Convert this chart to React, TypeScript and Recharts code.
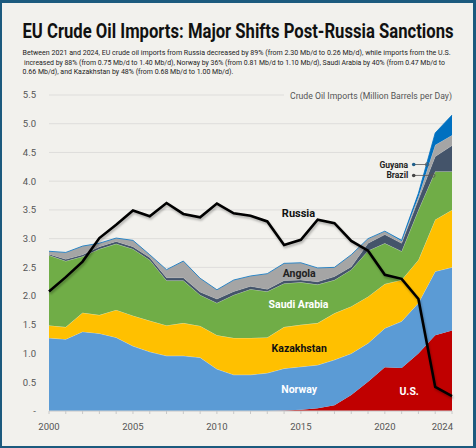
import React from 'react';
import {
  ComposedChart,
  Area,
  Line,
  XAxis,
  YAxis,
  CartesianGrid,
  ReferenceDot,
  ReferenceLine,
} from 'recharts';

const years = [2000, 2001, 2002, 2003, 2004, 2005, 2006, 2007, 2008, 2009, 2010, 2011, 2012, 2013, 2014, 2015, 2016, 2017, 2018, 2019, 2020, 2021, 2022, 2023, 2024];

const us = [0, 0, 0, 0, 0, 0, 0, 0, 0, 0, 0, 0, 0, 0, 0.01, 0.02, 0.05, 0.1, 0.28, 0.51, 0.76, 0.75, 1.0, 1.32, 1.4];
const norway = [1.27, 1.25, 1.38, 1.35, 1.28, 1.13, 1.03, 0.96, 0.96, 0.93, 0.73, 0.63, 0.63, 0.66, 0.73, 0.75, 0.75, 0.79, 0.72, 0.67, 0.68, 0.81, 0.88, 1.11, 1.1];
const kazakhstan = [0.22, 0.21, 0.33, 0.32, 0.48, 0.53, 0.54, 0.53, 0.57, 0.55, 0.59, 0.64, 0.64, 0.62, 0.72, 0.73, 0.73, 0.81, 0.82, 0.81, 0.77, 0.72, 0.75, 0.9, 1.0];
const saudiArabia = [1.22, 1.15, 0.98, 1.15, 1.15, 1.16, 1.06, 0.78, 0.74, 0.54, 0.56, 0.75, 0.85, 0.8, 0.76, 0.74, 0.67, 0.58, 0.64, 0.8, 0.71, 0.5, 0.87, 0.84, 0.67];
const brazil = [0.02, 0.03, 0.03, 0.04, 0.04, 0.04, 0.04, 0.05, 0.05, 0.05, 0.07, 0.06, 0.05, 0.04, 0.05, 0.04, 0.05, 0.06, 0.05, 0.13, 0.15, 0.14, 0.18, 0.26, 0.45];
const angola = [0.05, 0.12, 0.15, 0.06, 0.06, 0.11, 0.05, 0.14, 0.29, 0.24, 0.16, 0.2, 0.18, 0.27, 0.3, 0.3, 0.24, 0.16, 0.21, 0.08, 0.06, 0.04, 0.05, 0.2, 0.18];
const guyana = [0, 0, 0, 0, 0, 0, 0, 0, 0, 0, 0, 0, 0, 0, 0, 0, 0, 0, 0, 0, 0, 0.01, 0.06, 0.21, 0.35];
const russia = [2.08, 2.33, 2.6, 3.01, 3.24, 3.49, 3.39, 3.62, 3.43, 3.37, 3.61, 3.44, 3.4, 3.3, 2.89, 2.98, 3.33, 3.27, 2.96, 2.79, 2.37, 2.3, 1.95, 0.42, 0.26];

const labelYears = [2000, 2005, 2010, 2015, 2020, 2024];
const yTicks = [0, 0.5, 1, 1.5, 2, 2.5, 3, 3.5, 4, 4.5, 5, 5.5];

const title = 'EU Crude Oil Imports: Major Shifts Post-Russia Sanctions';
const subtitleLines = [
  'Between 2021 and 2024, EU crude oil imports from Russia decreased by 89% (from 2.30 Mb/d to 0.26 Mb/d), while imports from the U.S.',
  'increased by 88% (from 0.75 Mb/d to 1.40 Mb/d),  Norway by 36% (from 0.81 Mb/d to 1.10 Mb/d), Saudi Arabia by 40% (from 0.47 Mb/d to',
  '0.66 Mb/d), and Kazakhstan by 48% (from 0.68 Mb/d to 1.00 Mb/d).',
];
const axisTitle = 'Crude Oil Imports (Million Barrels per Day)';

const data = years.map((year, i) => ({
  year,
  us: us[i],
  norway: norway[i],
  kazakhstan: kazakhstan[i],
  saudiArabia: saudiArabia[i],
  brazil: brazil[i],
  angola: angola[i],
  guyana: guyana[i],
  russia: russia[i],
}));

const FONT = "Roboto, 'Noto Sans', 'Liberation Sans', sans-serif";
const BG = '#f2f1ed';

function XTick(props: any) {
  const { x, y, payload } = props;
  const v = payload.value;
  const show = labelYears.includes(v);
  return (
    <g>
      <line x1={x} x2={x} y1={y} y2={y + 3} stroke="#c8c8c8" strokeWidth={1} />
      {show && (
        <text
          x={v === 2024 ? x + 1 : x}
          y={y + 19}
          textAnchor={v === 2024 ? 'end' : 'middle'}
          fontSize={9.5}
          fill="#555"
          fontFamily={FONT}
        >
          {v}
        </text>
      )}
    </g>
  );
}

const lbl = (value: string, fill: string, fontSize = 10.5) => ({
  value,
  position: 'center' as const,
  fill,
  fontSize,
  fontWeight: 700,
  fontFamily: FONT,
});

export default function App() {
  return (
    <div
      style={{
        position: 'fixed',
        left: 0,
        top: 0,
        width: 476,
        height: 448,
        background: BG,
        boxSizing: 'border-box',
        borderStyle: 'solid',
        borderColor: '#1c5a7e',
        borderWidth: '3px 3px 2px 2px',
        overflow: 'hidden',
      }}
    >
      <div style={{ position: 'absolute', left: -2, top: -3 }}>
        <ComposedChart
          width={476}
          height={448}
          data={data}
          margin={{ top: 95, right: 24, bottom: 0, left: 19 }}
        >
          <CartesianGrid vertical={false} stroke="#dedddb" strokeWidth={1} />
          <XAxis
            dataKey="year"
            type="number"
            domain={[2000, 2024]}
            ticks={years}
            interval={0}
            height={37}
            tickSize={0}
            tickMargin={0}
            tickLine={false}
            axisLine={{ stroke: '#d0d0d0' }}
            tick={<XTick />}
          />
          <YAxis
            type="number"
            domain={[0, 5.5]}
            ticks={yTicks}
            width={30}
            interval={0}
            tickSize={0}
            tickMargin={13}
            tickLine={false}
            axisLine={false}
            tickFormatter={(v: number) => (v === 0 ? '-' : v.toFixed(1))}
            tick={{ fontSize: 9.5, fill: '#555', fontFamily: FONT }}
          />
          <Area type="linear" dataKey="us" stackId="s" fill="#c00000" fillOpacity={1} stroke="none" isAnimationActive={false} />
          <Area type="linear" dataKey="norway" stackId="s" fill="#5b9bd5" fillOpacity={1} stroke="#ffffff" strokeOpacity={0.5} strokeWidth={0.8} isAnimationActive={false} />
          <Area type="linear" dataKey="kazakhstan" stackId="s" fill="#ffc000" fillOpacity={1} stroke="#ffffff" strokeOpacity={0.5} strokeWidth={0.8} isAnimationActive={false} />
          <Area type="linear" dataKey="saudiArabia" stackId="s" fill="#70ad47" fillOpacity={1} stroke="#ffffff" strokeOpacity={0.5} strokeWidth={0.8} isAnimationActive={false} />
          <Area type="linear" dataKey="brazil" stackId="s" fill="#44546a" fillOpacity={1} stroke="#ffffff" strokeOpacity={0.4} strokeWidth={0.6} isAnimationActive={false} />
          <Area type="linear" dataKey="angola" stackId="s" fill="#a5a5a5" fillOpacity={1} stroke="#ffffff" strokeOpacity={0.4} strokeWidth={0.6} isAnimationActive={false} />
          <Area type="linear" dataKey="guyana" stackId="s" fill="#0070c0" fillOpacity={1} stroke="#0070c0" strokeWidth={0.8} isAnimationActive={false} />
          <Line
            type="linear"
            dataKey="russia"
            stroke="#000"
            strokeWidth={2.6}
            dot={false}
            filter="url(#rshadow)"
            isAnimationActive={false}
          />
          <ReferenceDot x={2014.86} y={3.44} r={1} fill="none" stroke="none" label={lbl('Russia', '#111', 11)} />
          <ReferenceDot x={2014.9} y={2.4} r={1} fill="none" stroke="none" label={lbl('Angola', '#222')} />
          <ReferenceDot x={2014.86} y={1.86} r={1} fill="none" stroke="none" label={lbl('Saudi Arabia', '#ffffff')} />
          <ReferenceDot x={2014.9} y={1.09} r={1} fill="none" stroke="none" label={lbl('Kazakhstan', '#111')} />
          <ReferenceDot x={2014.9} y={0.38} r={1} fill="none" stroke="none" label={lbl('Norway', '#ffffff')} />
          <ReferenceDot x={2021.45} y={0.34} r={1} fill="none" stroke="none" label={lbl('U.S.', '#ffffff')} />

          <ReferenceLine segment={[{ x: 2021.72, y: 4.29 }, { x: 2022.52, y: 4.29 }]} stroke="#555" strokeWidth={0.8} />
          <ReferenceLine segment={[{ x: 2021.72, y: 4.1 }, { x: 2022.88, y: 4.1 }]} stroke="#555" strokeWidth={0.8} />
          <ReferenceDot x={2021.72} y={4.29} r={1.8} fill="#1f5f8b" stroke="none" />
          <ReferenceDot x={2021.72} y={4.1} r={1.8} fill="#444" stroke="none" />
          <ReferenceDot x={2022.52} y={4.29} r={1.8} fill="none" stroke="#555" strokeWidth={0.8} />
          <ReferenceDot x={2022.88} y={4.1} r={1.8} fill="none" stroke="#555" strokeWidth={0.8} />
          <ReferenceDot
            x={2021.45}
            y={4.29}
            r={1}
            fill="none"
            stroke="none"
            label={{ value: 'Guyana', position: 'left', offset: 0, fill: '#222', fontSize: 8.5, fontWeight: 700, fontFamily: FONT }}
          />
          <ReferenceDot
            x={2021.45}
            y={4.1}
            r={1}
            fill="none"
            stroke="none"
            label={{ value: 'Brazil', position: 'left', offset: 0, fill: '#222', fontSize: 8.5, fontWeight: 700, fontFamily: FONT }}
          />
        </ComposedChart>
      </div>
      <svg
        width={476}
        height={448}
        style={{ position: 'absolute', left: -2, top: -3, pointerEvents: 'none' }}
      >
        <defs>
          <filter id="rshadow" x="-10%" y="-10%" width="120%" height="130%">
            <feDropShadow dx="1" dy="2" stdDeviation="0.9" floodColor="#000" floodOpacity="0.28" />
          </filter>
        </defs>
        <g transform="translate(22.5 37.5) scale(0.855 1)">
          <text x={0} y={0} fontSize={19.5} fontWeight={700} fill="#111" fontFamily={FONT}>
            {title}
          </text>
        </g>
        <g transform="translate(22.5 54.5) scale(0.91 1)">
          <text x={0} y={0} fontSize={7.8} fill="#222" fontFamily={FONT}>
            {subtitleLines[0]}
          </text>
        </g>
        <g transform="translate(24 64.5) scale(0.888 1)">
          <text x={0} y={0} fontSize={7.8} fill="#222" fontFamily={FONT}>
            {subtitleLines[1]}
          </text>
        </g>
        <g transform="translate(22.5 73.8) scale(0.9 1)">
          <text x={0} y={0} fontSize={7.8} fill="#222" fontFamily={FONT}>
            {subtitleLines[2]}
          </text>
        </g>
        <rect x={284} y={88} width={172} height={14} fill={BG} />
        <text
          x={290}
          y={98.5}
          fontSize={9.5}
          fill="#555"
          fontFamily={FONT}
          textLength={162}
          lengthAdjust="spacingAndGlyphs"
        >
          {axisTitle}
        </text>
      </svg>
    </div>
  );
}
